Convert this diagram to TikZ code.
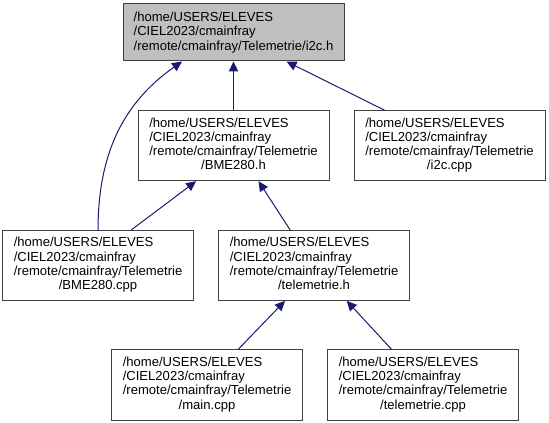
\documentclass[tikz,border=0pt]{standalone}
\usepackage{fontspec}
\setmainfont{Liberation Sans}
\usetikzlibrary{positioning,arrows.meta}
\definecolor{edgeblue}{RGB}{25,25,112}
\definecolor{rootgray}{RGB}{191,191,191}
\definecolor{boxborder}{RGB}{64,64,64}
\newcommand{\telpath}[1]{\begin{tabular}{@{}l@{}}/home/USERS/ELEVES\\/CIEL2023/cmainfray\\/remote/cmainfray/Telemetrie\\\multicolumn{1}{@{}c@{}}{#1}\end{tabular}}

\begin{document}
\begin{tikzpicture}[
node distance=36.5pt and 18pt,
file/.style={draw=boxborder, line width=0.75pt, font=\fontsize{9.8pt}{10.6pt}\selectfont, minimum width=143.25pt, minimum height=52.5pt, inner sep=0pt},
root/.style={file, fill=rootgray, align=left, minimum width=165.75pt, minimum height=42.75pt},
arr/.style={-{Triangle[length=7.5pt,width=7pt]}, draw=edgeblue, line width=0.75pt}
]
\useasboundingbox (0,0) rectangle (411.75pt,-317.25pt);
\node[root] (i2ch) at (175.125pt,-24.375pt) {/home/USERS/ELEVES\\/CIEL2023/cmainfray\\/remote/cmainfray/Telemetrie/i2c.h};
\node[file, below=of i2ch] (bmeh) {\telpath{/BME280.h}};
\node[file, right=of bmeh] (i2ccpp) {\telpath{/i2c.cpp}};
\node[file, below=of bmeh, xshift=60.4pt] (telh) {\telpath{/telemetrie.h}};
\node[file, left=of telh] (bmecpp) {\telpath{/BME280.cpp}};
\node[file, below=of telh, xshift=-80.25pt] (main) {\telpath{/main.cpp}};
\node[file, right=of main] (telcpp) {\telpath{/telemetrie.cpp}};

\draw[arr] (bmeh) -- (i2ch);
\draw[arr] ([xshift=-48.75pt]i2ccpp.north) -- ([xshift=39.75pt]i2ch.south);
\draw[arr] (bmecpp.north) to[out=90,in=215] ([xshift=-38.6pt]i2ch.south);
\draw[arr] ([xshift=25pt]bmecpp.north) -- ([xshift=-28pt]bmeh.south);
\draw[arr] ([xshift=-18pt]telh.north) -- ([xshift=18.75pt]bmeh.south);
\draw[arr] ([xshift=23.25pt]main.north) -- ([xshift=-21.75pt]telh.south);
\draw[arr] ([xshift=-23.5pt]telcpp.north) -- ([xshift=24.5pt]telh.south);
\end{tikzpicture}
\end{document}
